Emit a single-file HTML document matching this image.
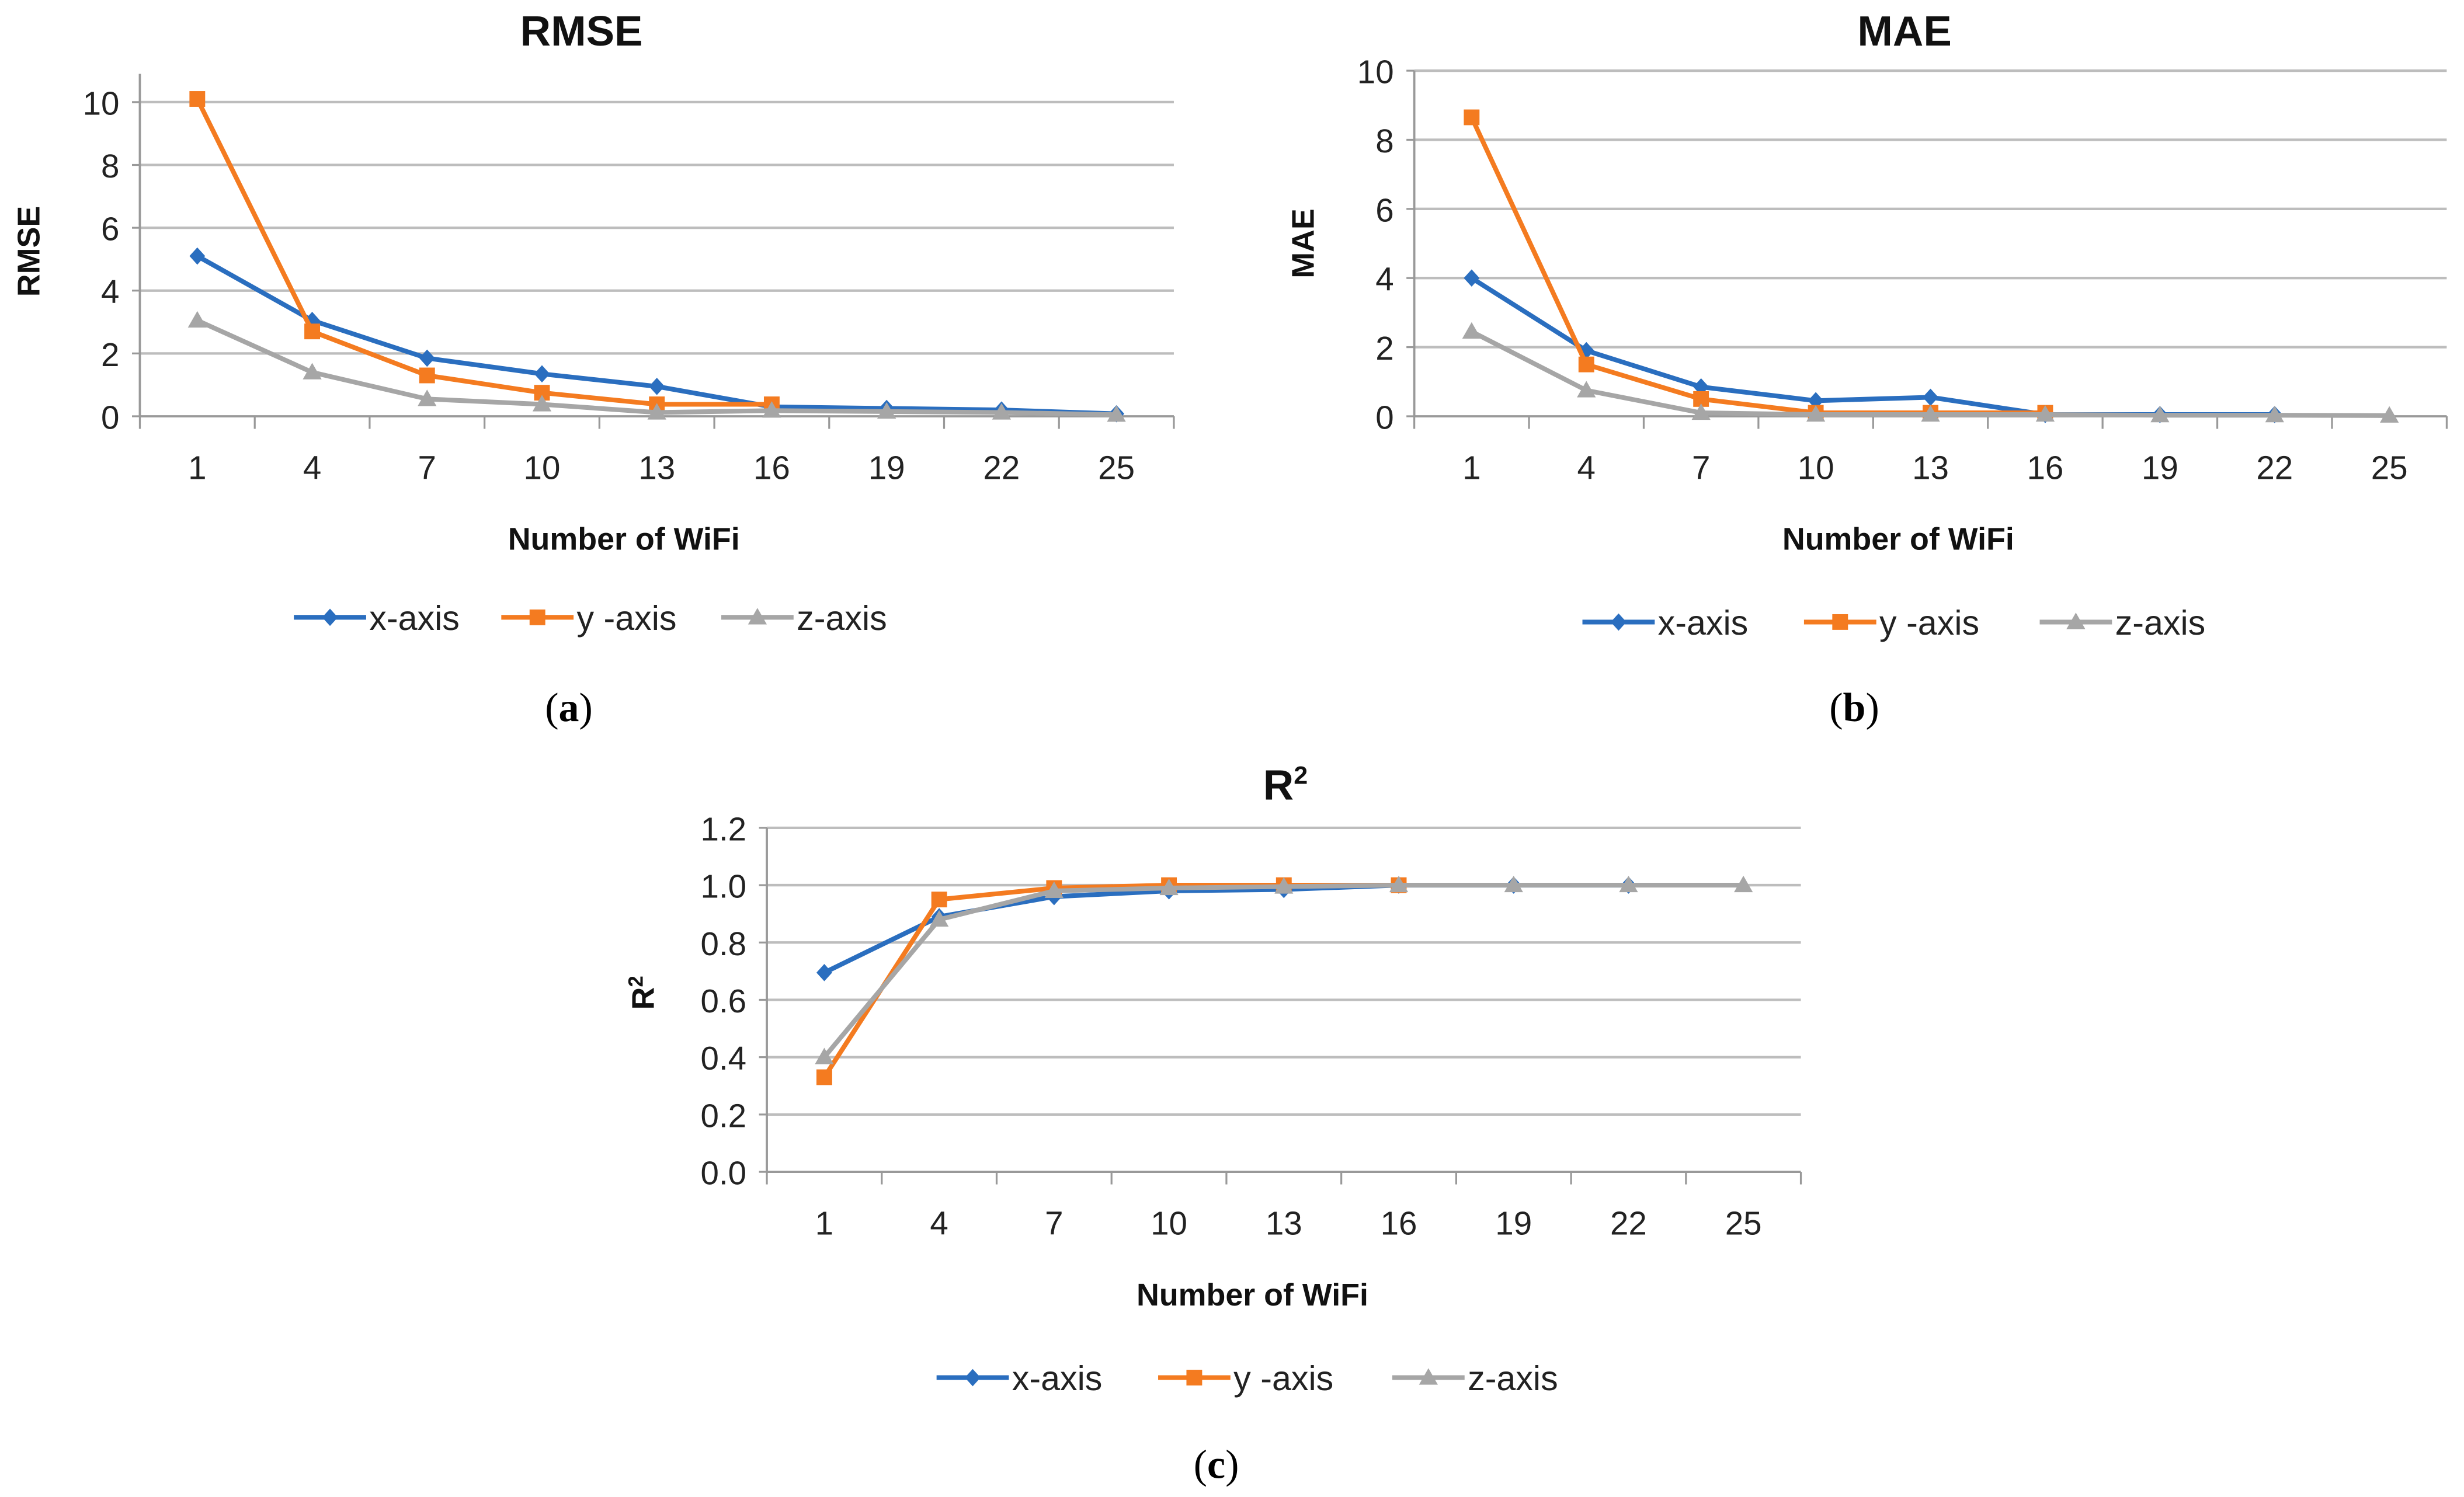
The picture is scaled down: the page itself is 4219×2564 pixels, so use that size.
<!DOCTYPE html>
<html><head><meta charset="utf-8">
<style>
html,body{margin:0;padding:0;background:#fff;}
svg{display:block;}
text{font-family:"Liberation Sans",sans-serif;}
</style></head>
<body>
<svg id="fig" width="4219" height="2564" viewBox="0 0 1568 953" preserveAspectRatio="none" xmlns="http://www.w3.org/2000/svg"></svg>
<script>
// ---- data ----
const categories = [1,4,7,10,13,16,19,22,25];
const seriesNames = ["x-axis","y -axis","z-axis"];
const rmseX = [5.1,3.05,1.85,1.35,0.95,0.3,0.25,0.2,0.08];
const rmseY = [10.1,2.7,1.3,0.75,0.38,0.38];
const rmseZ = [3.05,1.4,0.55,0.38,0.12,0.18,0.15,0.12,0.05];
const maeX = [4.0,1.9,0.85,0.45,0.55,0.05,0.05,0.05];
const maeY = [8.65,1.5,0.5,0.1,0.1,0.1];
const maeZ = [2.45,0.75,0.1,0.05,0.05,0.05,0.03,0.03,0.02];
const r2X = [0.695,0.89,0.96,0.98,0.985,1.0,1.0,1.0];
const r2Y = [0.33,0.95,0.99,1.0,1.0,1.0];
const r2Z = [0.40,0.88,0.98,0.99,0.995,1.0,1.0,1.0,1.0];
const rmseTicks = ["0","2","4","6","8","10"];
const maeTicks = ["0","2","4","6","8","10"];
const r2Ticks = ["0.0","0.2","0.4","0.6","0.8","1.0","1.2"];

const colors = ["#2a6ebf","#f47b20","#a6a6a6"];
const NS = "http://www.w3.org/2000/svg";
const svg = document.getElementById("fig");
function mk(tag, attrs, parent){
  const e = document.createElementNS(NS, tag);
  for (const k in attrs) e.setAttribute(k, attrs[k]);
  (parent||svg).appendChild(e);
  return e;
}
function marker(g, i, x, y){
  let m;
  if (i===0) m = mk("path",{d:`M${x} ${y-5.5}L${x+5} ${y}L${x} ${y+5.5}L${x-5} ${y}Z`,fill:colors[0]},g);
  else if (i===1) m = mk("rect",{x:x-5,y:y-5,width:10,height:10,fill:colors[1]},g);
  else m = mk("path",{d:`M${x} ${y-6}L${x+6} ${y+4.5}L${x-6} ${y+4.5}Z`,fill:colors[2]},g);
  return m;
}
function chart(cfg){
  const g = mk("g",{});
  
  
  const L=cfg.left, R=cfg.right, T=cfg.yTop, B=cfg.yBottom;
  const n = categories.length, cw=(R-L)/n;
  const xs = i => L + cw*(i+0.5);
  const ys = v => B - (v - cfg.min)/(cfg.max-cfg.min)*(B-T);
  cfg.ticks.forEach((t,i)=>{
    const v = cfg.min + i*cfg.step, y = ys(v);
    if (i>0){ const gl = mk("line",{x1:L,x2:R,y1:y,y2:y,stroke:"#bdbdbd","stroke-width":1.6},g);
        }
    mk("line",{x1:L-5,x2:L,y1:y,y2:y,stroke:"#999","stroke-width":1.2},g);
    const tx = mk("text",{x:L-13,y:y+8,"text-anchor":"end","font-size":21,fill:"#222"},g);
    tx.textContent = t;
     
  });
  const ya = mk("line",{x1:L,x2:L,y1:cfg.axisTop,y2:B,stroke:"#999","stroke-width":1.4},g);
   
  const xa = mk("line",{x1:L,x2:R,y1:B,y2:B,stroke:"#999","stroke-width":1.4},g);
   
  for (let i=0;i<=n;i++){ mk("line",{x1:L+cw*i,x2:L+cw*i,y1:B,y2:B+8,stroke:"#999","stroke-width":1.2},g); }
  categories.forEach((c,i)=>{
    const tx = mk("text",{x:xs(i),y:B+40,"text-anchor":"middle","font-size":21,fill:"#222"},g);
    tx.textContent = c;
     
  });
  const ti = mk("text",{x:cfg.titleX,y:cfg.titleY,"text-anchor":"middle","font-size":27,"font-weight":"bold",fill:"#111"},g);
  ti.innerHTML = cfg.title;
   
  const yt = mk("text",{x:0,y:0,"text-anchor":"middle","font-size":20,"font-weight":"bold",fill:"#111",transform:`translate(${cfg.yTitleX},${cfg.yTitleY}) rotate(-90)`},g);
  yt.innerHTML = cfg.yTitle;
   
  const xt = mk("text",{x:cfg.xTitleX,y:B+85,"text-anchor":"middle","font-size":20,"font-weight":"bold",fill:"#111"},g);
  xt.textContent = "Number of WiFi";
   
  cfg.series.forEach((arr,si)=>{
    const sg = mk("g",{},g);
    
    
    const pts = arr.map((v,i)=>xs(i)+","+ys(v)).join(" ");
    mk("polyline",{points:pts,fill:"none",stroke:colors[si],"stroke-width":3,"stroke-linejoin":"round"},sg);
    arr.forEach((v,i)=>{
      const m = marker(sg, si, xs(i), ys(v));
      
      
    });
  });
  cfg.legendX.forEach((lx,si)=>{
    const lg = mk("g",{},g);
    
    
    mk("line",{x1:lx,x2:lx+46,y1:cfg.legendY,y2:cfg.legendY,stroke:colors[si],"stroke-width":3},lg);
    marker(lg, si, lx+23, cfg.legendY);
    const t = mk("text",{x:lx+48,y:cfg.legendY+8,"font-size":22,fill:"#222"},lg);
    t.textContent = seriesNames[si];
  });
  const cap = mk("text",{x:cfg.capX,y:cfg.capY,"text-anchor":"middle","font-size":26,fill:"#000",style:"font-family:'Liberation Serif',serif"},g);
  cap.innerHTML = cfg.cap;
   
}
chart({name:"rmse-chart",left:89,right:747,yTop:65,yBottom:265,axisTop:47,min:0,max:10,step:2,ticks:rmseTicks,
  series:[rmseX,rmseY,rmseZ],title:"RMSE",titleX:370,titleY:29,yTitle:"RMSE",yTitleX:25,yTitleY:160,xTitleX:397,
  legendX:[187,319,459],legendY:393,cap:"(<tspan font-weight='bold'>a</tspan>)",capX:362,capY:459});
chart({name:"mae-chart",left:900,right:1557,yTop:45,yBottom:265,axisTop:45,min:0,max:10,step:2,ticks:maeTicks,
  series:[maeX,maeY,maeZ],title:"MAE",titleX:1212,titleY:29,yTitle:"MAE",yTitleX:836,yTitleY:155,xTitleX:1208,
  legendX:[1007,1148,1298],legendY:396,cap:"(<tspan font-weight='bold'>b</tspan>)",capX:1180,capY:459});
chart({name:"r2-chart",left:488,right:1146,yTop:527,yBottom:746,axisTop:527,min:0,max:1.2,step:0.2,ticks:r2Ticks,
  series:[r2X,r2Y,r2Z],title:"R<tspan font-size='16' dy='-10'>2</tspan>",titleX:818,titleY:509,yTitle:"R<tspan font-size='13' dy='-7'>2</tspan>",yTitleX:416,yTitleY:632,xTitleX:797,
  legendX:[596,737,886],legendY:877,cap:"(<tspan font-weight='bold'>c</tspan>)",capX:774,capY:941});
</script>
</body></html>
